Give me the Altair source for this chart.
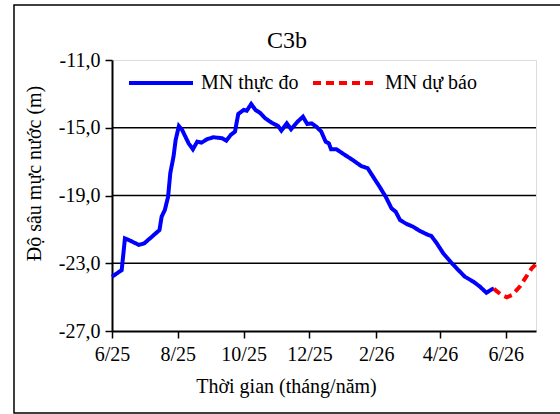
import altair as alt
import pandas as pd

obs_dates = [
    "2025-06-01", "2025-06-10", "2025-06-13", "2025-06-18", "2025-06-26", "2025-07-01",
    "2025-07-08", "2025-07-15", "2025-07-17", "2025-07-20", "2025-07-23", "2025-07-25",
    "2025-07-28", "2025-07-30", "2025-08-02", "2025-08-05", "2025-08-11", "2025-08-15",
    "2025-08-19", "2025-08-23", "2025-08-28", "2025-09-03", "2025-09-11", "2025-09-15",
    "2025-09-19", "2025-09-23", "2025-09-26", "2025-10-01", "2025-10-04", "2025-10-08",
    "2025-10-12", "2025-10-16", "2025-10-21", "2025-10-27", "2025-11-02", "2025-11-05",
    "2025-11-10", "2025-11-14", "2025-11-20", "2025-11-25", "2025-11-29", "2025-12-03",
    "2025-12-08", "2025-12-12", "2025-12-16", "2025-12-19", "2025-12-21", "2025-12-26",
    "2026-01-03", "2026-01-10", "2026-01-18", "2026-01-24", "2026-01-29", "2026-02-04",
    "2026-02-10", "2026-02-15", "2026-02-19", "2026-02-23", "2026-03-01", "2026-03-07",
    "2026-03-13", "2026-03-21", "2026-03-24", "2026-03-29", "2026-04-04", "2026-04-12",
    "2026-04-18", "2026-04-24", "2026-05-02", "2026-05-08", "2026-05-14", "2026-05-19",
    "2026-05-21",
]
obs_values = [
    -23.80, -23.40, -21.53, -21.67, -21.92, -21.82,
    -21.43, -21.04, -20.25, -19.85, -19.07, -17.69,
    -16.71, -15.72, -14.90, -15.13, -15.92, -16.27,
    -15.82, -15.88, -15.68, -15.56, -15.62, -15.76,
    -15.43, -15.23, -14.19, -13.95, -13.99, -13.60,
    -13.95, -14.11, -14.44, -14.70, -14.90, -15.17,
    -14.74, -15.09, -14.64, -14.35, -14.78, -14.74,
    -14.97, -15.23, -15.82, -15.92, -16.27, -16.27,
    -16.61, -16.90, -17.26, -17.39, -17.89, -18.48,
    -19.11, -19.75, -19.96, -20.45, -20.68, -20.84,
    -21.08, -21.33, -21.39, -21.82, -22.41, -23.00,
    -23.40, -23.79, -24.09, -24.38, -24.74, -24.54,
    -24.50,
]
fc_dates = ["2026-05-21", "2026-05-23", "2026-05-28", "2026-06-02", "2026-06-07",
            "2026-06-14", "2026-06-20", "2026-06-25", "2026-06-29"]
fc_values = [-24.50, -24.62, -24.87, -25.01, -24.87, -24.38, -23.79, -23.30, -23.05]

series_names = ["MN thực đo", "MN dự báo"]
series_colors = ["#0000FF", "#FF0000"]
y_ticks = [-27, -23, -19, -15, -11]
grid_values = [-15, -19, -23]
tick_months = [(2025, 6), (2025, 8), (2025, 10), (2025, 12), (2026, 2), (2026, 4), (2026, 6)]

FONT = "'Liberation Serif', 'Times New Roman', 'DejaVu Serif', serif"

df = pd.concat([
    pd.DataFrame({"date": obs_dates, "value": obs_values, "series": series_names[0]}),
    pd.DataFrame({"date": fc_dates, "value": fc_values, "series": series_names[1]}),
], ignore_index=True)

x_scale = alt.Scale(type="utc", domain=[alt.DateTime(year=2025, month=6, date=1, utc=True),
                                         alt.DateTime(year=2026, month=6, date=29, utc=True)])
y_scale = alt.Scale(domain=[-27, -11], nice=False, zero=False)

legend = alt.Legend(
    title=None, orient="none", legendX=15, legendY=-11, direction="horizontal",
    symbolType="stroke", symbolSize=4096, symbolStrokeWidth=4,
    labelFont=FONT, labelFontSize=20, labelColor="black", labelOffset=6,
    columnPadding=6, padding=0, labelLimit=0,
)

x_axis = alt.Axis(
    values=[alt.DateTime(year=y, month=m, date=1, utc=True) for y, m in tick_months],
    labelExpr="utcFormat(datum.value, '%-m/%y')",
    grid=False, domainColor="black", domainWidth=2, tickColor="black", tickWidth=1.5,
    tickSize=7, labelFont=FONT, labelFontSize=20, labelColor="black", labelPadding=6,
    title="Thời gian  (tháng/năm)", titleFont=FONT, titleFontSize=20, titleFontWeight="normal",
    titleColor="black", titleX=174, titleY=61, titleBaseline="alphabetic", titleAlign="center",
    labelFlush=False,
)
y_axis = alt.Axis(
    values=y_ticks,
    labelExpr="(datum.value < 0 ? '-' : '') + replace(format(abs(datum.value), '.1f'), '.', ',')",
    grid=False, domainColor="black", domainWidth=2, tickColor="black", tickWidth=1.5,
    tickSize=7, labelFont=FONT, labelFontSize=20, labelColor="black", labelPadding=5,
    title="Độ sâu mực nước (m)", titleFont=FONT, titleFontSize=20, titleFontWeight="normal",
    titleColor="black", titleX=-72, titleY=113, titleBaseline="alphabetic", titleAlign="center",
    titleAngle=270,
)

grid = alt.Chart(pd.DataFrame({"g": grid_values})).mark_rule(
    color="black", strokeWidth=1.5
).encode(y=alt.Y("g:Q", scale=y_scale))

lines = alt.Chart(df).mark_line(strokeWidth=4).encode(
    x=alt.X("date:T", scale=x_scale, axis=x_axis),
    y=alt.Y("value:Q", scale=y_scale, axis=y_axis),
    color=alt.Color("series:N", scale=alt.Scale(domain=series_names, range=series_colors), legend=legend),
    strokeDash=alt.StrokeDash("series:N", scale=alt.Scale(domain=series_names, range=[[1, 0], [8, 5]]), legend=legend),
)

frame = alt.Chart(pd.DataFrame({"k": [0]})).mark_rect(
    fill="transparent", stroke="black", strokeWidth=1.5
).encode(x=alt.value(-98), x2=alt.value(470), y=alt.value(-55), y2=alt.value(353))

chart = alt.layer(grid, lines, frame).properties(
    width=424, height=271,
    title=alt.TitleParams("C3b", font=FONT, fontSize=24, fontWeight="normal", color="black",
                          dx=-37, offset=-49, frame="group", anchor="middle"),
    autosize=alt.AutoSizeParams(type="none"),
    padding={"left": 112, "top": 60, "right": 24, "bottom": 83},
).configure_view(stroke="#808080", strokeWidth=2).configure(background="white")

chart.save("out.html", embed_options={"renderer": "svg", "actions": False})
